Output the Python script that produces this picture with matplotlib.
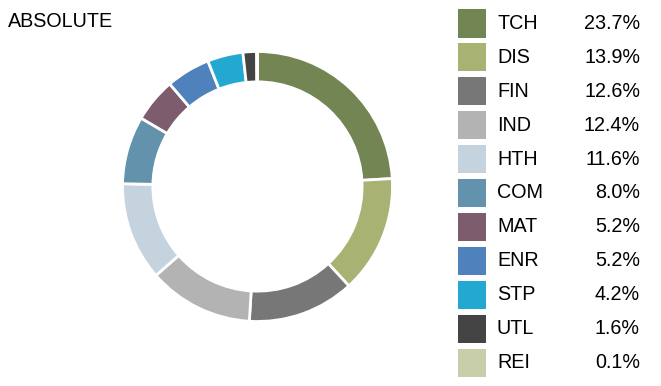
import matplotlib.pyplot as plt
from matplotlib.patches import Rectangle

sectors = ["TCH", "DIS", "FIN", "IND", "HTH", "COM", "MAT", "ENR", "STP", "UTL", "REI"]
weights = [23.7, 13.9, 12.6, 12.4, 11.6, 8.0, 5.2, 5.2, 4.2, 1.6, 0.1]
colors = ["#738552", "#a8b273", "#777777", "#b3b3b3", "#c5d3df", "#6292ac",
          "#7d5c6e", "#4f81bd", "#23a9d1", "#444444", "#c8cfa8"]

font = ["Liberation Sans", "DejaVu Sans"]
fsize = 14.2

fig = plt.figure(figsize=(6.61, 3.86), dpi=100)

# donut
ax = fig.add_axes([(257.5 - 135) / 661, 1 - (186.5 + 135) / 386, 270 / 661, 270 / 386])
ax.pie(weights, colors=colors, startangle=90, counterclock=False, radius=1.0,
       wedgeprops=dict(width=0.225, edgecolor="white", linewidth=2))
ax.set_xlim(-1, 1)
ax.set_ylim(-1, 1)
ax.set_aspect("equal")
ax.axis("off")

fig.text(8 / 661, 1 - 21.5 / 386, "ABSOLUTE", family=font, fontsize=fsize,
         va="center", ha="left")

# legend table
top = 23.5
step = 33.9
for i, (name, w, c) in enumerate(zip(sectors, weights, colors)):
    yc = top + i * step
    fig.patches.append(Rectangle((458 / 661, 1 - (yc + 14) / 386), 28 / 661, 28 / 386,
                                 transform=fig.transFigure, facecolor=c, edgecolor="none"))
    fig.text(497 / 661, 1 - yc / 386, name, family=font, fontsize=fsize,
             va="center", ha="left")
    fig.text(640 / 661, 1 - yc / 386, f"{w:.1f}%", family=font, fontsize=fsize,
             va="center", ha="right")

fig.savefig("out.png", dpi=100)
